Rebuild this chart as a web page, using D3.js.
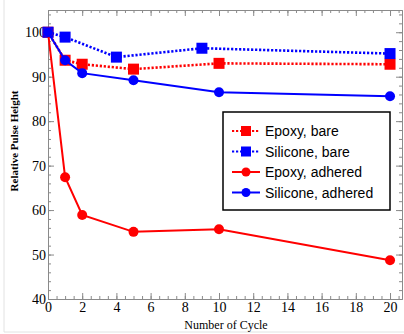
<!DOCTYPE html>
<html>
<head>
<meta charset="utf-8">
<script src="https://cdn.jsdelivr.net/npm/d3@7"></script>
<style>
  body { margin: 0; background: #fff; }
  svg text { font-family: "Liberation Serif", "Times New Roman", serif; }
</style>
</head>
<body>
<svg id="chart" width="404" height="334"></svg>
<script>
// data
var cycles = [0, 1, 2, 5, 10, 20];
var epoxyBare = [100, 93.7, 92.8, 91.7, 93.0, 92.8];
var siliconeBareCycles = [0, 1, 4, 9, 20];
var siliconeBare = [100, 98.9, 94.4, 96.4, 95.2];
var epoxyAdhered = [100, 67.4, 58.9, 55.1, 55.7, 48.7];
var siliconeAdhered = [100, 93.7, 90.8, 89.2, 86.5, 85.6];

var xTicks = d3.range(0, 21, 2);
var yTicks = d3.range(40, 101, 10);

var series = [
	{name: 'Epoxy, bare', x: cycles, y: epoxyBare, color: '#ff0000', dash: '2.2,1.8', marker: 'square'},
	{name: 'Silicone, bare', x: siliconeBareCycles, y: siliconeBare, color: '#0000ff', dash: '2.2,1.8', marker: 'square'},
	{name: 'Epoxy, adhered', x: cycles, y: epoxyAdhered, color: '#ff0000', dash: null, marker: 'circle'},
	{name: 'Silicone, adhered', x: cycles, y: siliconeAdhered, color: '#0000ff', dash: null, marker: 'circle'},
];

var svg = d3.select('#chart');
// window.top is reserved, so plain names for the frame
var pLeft = 48, pRight = 402, pTop = 10, pBottom = 299;

var x = d3.scaleLinear().domain([0, 20.7]).range([pLeft, pRight]);
var y = d3.scaleLinear().domain([40, 105]).range([pBottom, pTop]);

// faint frame of the original picture
svg.append('path').attr('d', 'M4,0V332H404').attr('fill', 'none').attr('stroke', '#e2e2e2').attr('stroke-width', 1);

var axisColor = '#8a8a8a';
function styleAxis(g) {
	g.selectAll('path.domain').attr('stroke', axisColor);
	g.selectAll('line').attr('stroke', axisColor);
	g.selectAll('text').attr('fill', '#000').style('font-size', '14px').style('font-family', '"Liberation Serif", serif');
}

// minor ticks
var xMinor = d3.range(0, 20.6, 0.5), yMinor = d3.range(40, 105, 2);
svg.append('g').attr('transform', 'translate(0,' + pBottom + ')')
	.call(d3.axisBottom(x).tickValues(xMinor).tickSize(-3).tickSizeOuter(0).tickFormat('')).call(styleAxis);
svg.append('g').attr('transform', 'translate(0,' + pTop + ')')
	.call(d3.axisTop(x).tickValues(xMinor).tickSize(-3).tickSizeOuter(0).tickFormat('')).call(styleAxis);
svg.append('g').attr('transform', 'translate(' + pLeft + ',0)')
	.call(d3.axisLeft(y).tickValues(yMinor).tickSize(-3).tickSizeOuter(0).tickFormat('')).call(styleAxis);
svg.append('g').attr('transform', 'translate(' + pRight + ',0)')
	.call(d3.axisRight(y).tickValues(yMinor).tickSize(-3).tickSizeOuter(0).tickFormat('')).call(styleAxis);

// major ticks
svg.append('g').attr('transform', 'translate(0,' + pBottom + ')')
	.call(d3.axisBottom(x).tickValues(xTicks).tickSize(-6).tickSizeOuter(0).tickPadding(3).tickFormat(d3.format('d'))).call(styleAxis);
svg.append('g').attr('transform', 'translate(0,' + pTop + ')')
	.call(d3.axisTop(x).tickValues(xTicks).tickSize(-6).tickSizeOuter(0).tickFormat('')).call(styleAxis);
svg.append('g').attr('transform', 'translate(' + pLeft + ',0)')
	.call(d3.axisLeft(y).tickValues(yTicks).tickSize(-6).tickSizeOuter(0).tickPadding(2).tickFormat(d3.format('d'))).call(styleAxis);
svg.append('g').attr('transform', 'translate(' + pRight + ',0)')
	.call(d3.axisRight(y).tickValues(yTicks).tickSize(-6).tickSizeOuter(0).tickFormat('')).call(styleAxis);

// axis titles
svg.append('text')
	.attr('transform', 'translate(18,141) rotate(-90)')
	.attr('text-anchor', 'middle')
	.style('font-size', '11px').style('font-weight', 'bold')
	.text('Relative Pulse Height');
svg.append('text')
	.attr('x', 226).attr('y', 329)
	.attr('text-anchor', 'middle')
	.style('font-size', '12px')
	.text('Number of Cycle');

// series
var line = d3.line().x(d => x(d[0])).y(d => y(d[1]));
series.forEach(function (s) {
	var pts = s.x.map(function (d, i) { return [d, s.y[i]]; });
	var g = svg.append('g');
	g.append('path')
		.attr('d', line(pts))
		.attr('fill', 'none')
		.attr('stroke', s.color)
		.attr('stroke-width', s.dash ? 2.6 : 2)
		.attr('stroke-dasharray', s.dash);
	drawMarkers(g, pts.map(p => [x(p[0]), y(p[1])]), s, s.marker === 'square' ? 11 : 10);
});

function drawMarkers(g, pts, s, size) {
	if (s.marker === 'square') {
		g.selectAll('rect').data(pts).enter().append('rect')
			.attr('x', d => d[0] - size / 2).attr('y', d => d[1] - size / 2)
			.attr('width', size).attr('height', size)
			.attr('fill', s.color);
	} else {
		g.selectAll('circle').data(pts).enter().append('circle')
			.attr('cx', d => d[0]).attr('cy', d => d[1]).attr('r', size / 2)
			.attr('fill', s.color);
	}
}

// legend
var legend = svg.append('g');
legend.append('rect')
	.attr('x', 223).attr('y', 112).attr('width', 167).attr('height', 98)
	.attr('fill', '#fff').attr('stroke', '#000').attr('stroke-width', 1.5);
series.forEach(function (s, i) {
	var ly = 131 + i * 20.5;
	var g = legend.append('g');
	g.append('line')
		.attr('x1', 232).attr('x2', 260).attr('y1', ly).attr('y2', ly)
		.attr('stroke', s.color)
		.attr('stroke-width', 2)
		.attr('stroke-dasharray', s.dash);
	drawMarkers(g, [[246, ly]], s, s.marker === 'square' ? 10 : 9);
	g.append('text')
		.attr('x', 265).attr('y', ly + 5)
		.style('font-family', '"Liberation Sans", Arial, sans-serif')
		.style('font-size', '14px')
		.text(s.name);
});
</script>
</body>
</html>
